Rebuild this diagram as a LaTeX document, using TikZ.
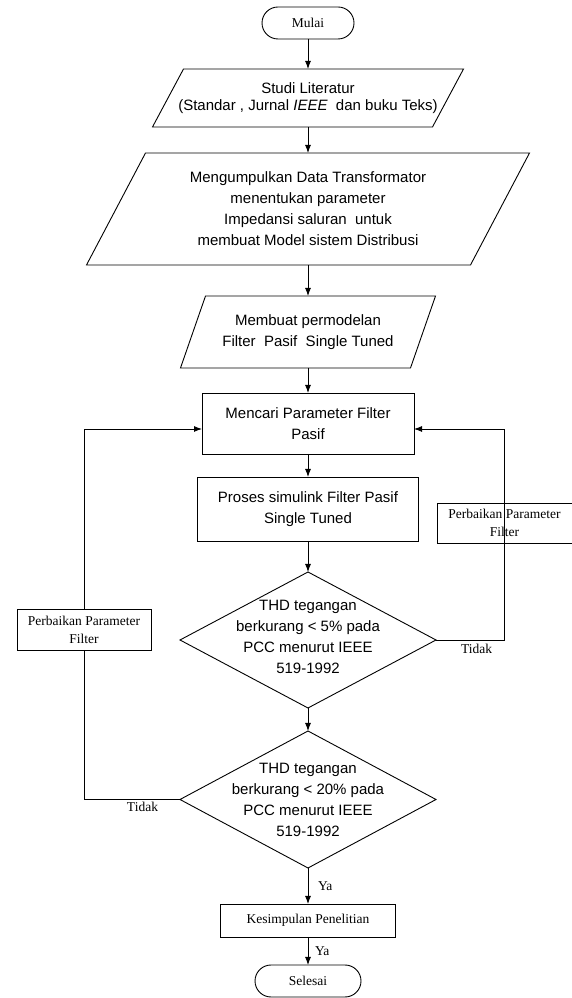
\documentclass[tikz,border=0pt]{standalone}
\usepackage{fontspec}
\setmainfont{Liberation Serif}
\newfontfamily\arialfont{Liberation Sans}
\usetikzlibrary{arrows.meta,positioning,shapes.geometric}

\begin{document}
\begin{tikzpicture}[x=1pt, y=1pt, line width=0.9pt, >={Latex[length=8pt,width=6pt]},
  every node/.style={outer sep=0pt},
  serifbox/.style={draw, fill=white, align=center, font=\fontsize{13.5}{18}\selectfont, inner sep=1pt},
  sansbox/.style={draw, align=center, font=\arialfont\fontsize{15}{21}\selectfont, inner sep=1pt},
  iobox/.style={align=center, font=\arialfont\fontsize{15}{21}\selectfont, inner sep=0pt},
  terminal/.style={draw, rounded corners=16pt, font=\fontsize{13.5}{18}\selectfont, minimum width=#1, minimum height=32pt},
  decision/.style={draw, diamond, minimum width=256pt, minimum height=#1, inner sep=0pt},
  dtext/.style={align=center, font=\arialfont\fontsize{15}{21}\selectfont, inner sep=0pt},
  lbl/.style={font=\fontsize{13.5}{16}\selectfont, inner sep=1pt}]
\useasboundingbox (0,0) rectangle (572,998);

\node[terminal=92pt] (mulai) at (308,975) {Mulai};
\node[iobox, minimum width=280pt, minimum height=58pt, below=30pt of mulai, font=\arialfont\fontsize{15}{17}\selectfont] (studi) {Studi Literatur\\(Standar , Jurnal \textit{IEEE}\ \ dan buku Teks)};
\node[iobox, minimum width=384pt, minimum height=112pt, below=26pt of studi] (meng) {Mengumpulkan Data Transformator\\menentukan parameter\\Impedansi saluran\ \ untuk\\membuat Model sistem Distribusi};
\node[iobox, minimum width=230pt, minimum height=72pt, below=31pt of meng] (memb) {Membuat permodelan\\Filter\ \ Pasif\ \ Single Tuned};
\node[sansbox, minimum width=212pt, minimum height=61pt, below=25pt of memb] (mencari) {Mencari Parameter Filter\\Pasif};
\node[sansbox, minimum width=221pt, minimum height=64pt, below=23pt of mencari] (proses) {Proses simulink Filter Pasif\\Single Tuned};
\node[decision=136pt, below=31pt of proses] (d1) {};
\node[dtext] (d1txt) at ([yshift=3pt]d1.center) {THD tegangan\\berkurang < 5\% pada\\PCC menurut IEEE\\519-1992};
\node[decision=137pt, below=23pt of d1] (d2) {};
\node[dtext] (d2txt) at (d2.center) {THD tegangan\\berkurang < 20\% pada\\PCC menurut IEEE\\519-1992};
\node[serifbox, minimum width=175pt, minimum height=33pt, below=36pt of d2] (kes) {Kesimpulan Penelitian};
\node[terminal=106pt, below=28pt of kes] (sel) {Selesai};

% kotak perbaikan di kiri dan kanan
\node[serifbox, minimum width=134pt, minimum height=41pt] (perbkiri) at (84,368.5) {Perbaikan Parameter\\Filter};
\node[serifbox, fill=none, minimum width=135pt, minimum height=40pt] (perbkanan) at (504.5,475) {Perbaikan Parameter\\Filter};

% jajaran genjang
\foreach \n/\s in {studi/15.5pt, meng/29.5pt, memb/12.5pt}
  \draw ([xshift=\s]\n.north west) -- ([xshift=\s]\n.north east) -- ([xshift=-\s]\n.south east) -- ([xshift=-\s]\n.south west) -- cycle;

\draw[->] (mulai) -- (studi);
\draw[->] (studi) -- (meng);
\draw[->] (meng) -- (memb);
\draw[->] (memb) -- (mencari);
\draw[->] (mencari) -- (proses);
\draw[->] (proses) -- (d1);
\draw[->] (d1) -- (d2);
\draw[->] (d2) -- node[lbl, right=9pt] (ya1) {Ya} (kes);
\draw[->] (kes) -- node[lbl, right=6pt] (ya2) {Ya} (sel);

% umpan balik
\draw (d2.west) -| (perbkiri.south);
\draw[->] (perbkiri.north) |- ([yshift=-5.5pt]mencari.west);
\draw[->] (d1.east) -| (perbkanan.center) |- ([yshift=-5.5pt]mencari.east);
\node[lbl, anchor=north east] (tidakkiri) at ([xshift=-21pt,yshift=-2pt]d2.west) {Tidak};
\node[lbl, anchor=north west] (tidakkanan) at ([xshift=24pt,yshift=-3pt]d1.east) {Tidak};
\end{tikzpicture}
\end{document}
